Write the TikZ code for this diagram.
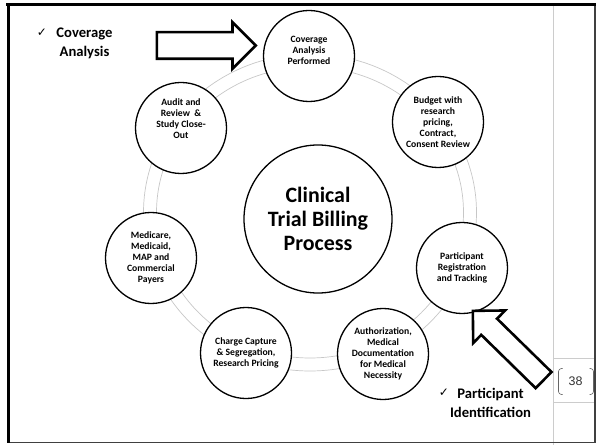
\documentclass[tikz,border=0pt]{standalone}
\usepackage{fontspec}
\setmainfont{Carlito}
\newfontfamily\tickfont{DejaVu Sans}
\newfontfamily\pagefont{Liberation Sans}
\usepackage{tikz}
\usetikzlibrary{shapes, shapes.arrows, backgrounds}

\begin{document}
\begin{tikzpicture}[x=1bp, y=-1bp,
stage/.style={circle, draw, line width=1.3bp, fill=white, minimum size=91bp, inner sep=0pt, align=center, font=\fontsize{9.7}{11}\selectfont\bfseries},
stagetext/.style={align=center, font=\fontsize{9.7}{11}\selectfont\bfseries},
hub/.style={circle, draw, line width=1.3bp, fill=white, minimum size=148bp, align=center, font=\fontsize{22}{24}\selectfont\bfseries},
pointer/.style={single arrow, draw, line width=2.6bp, fill=white, inner xsep=0pt, minimum width=0pt, minimum height=99bp, single arrow tip angle=90, anchor=tail},
note/.style={align=center, font=\fontsize{14.7}{18.5}\selectfont\bfseries},
tick/.style={font=\tickfont\fontsize{12}{12}\selectfont},
ring/.style={black!22, line width=0.7bp}
    ]
  \useasboundingbox (0,0) rectangle (596,445);

  % slide frame
  \draw[black!20, line width=1bp] (553,6) -- (553,445) (553,358) -- (595,358) (553,402) -- (595,402);
  \draw[black!75, line width=1.2bp] (595,4) -- (595,443) (8,442.5) -- (596,442.5);
  \draw[line width=3bp] (8.5,4) -- (8.5,443);
  \draw[line width=3.5bp] (6,4.5) -- (596,4.5);

  % ring behind the stages
  \draw[ring] (310,212.5) ellipse [x radius=153.5, y radius=145.5];
  \draw[ring] (310,212.5) ellipse [x radius=166.5, y radius=158.5];

  \node[hub] (hub) at (318,219) {Clinical\\Trial Billing\\Process};

  \node[stage, label={[stagetext, yshift=6bp]center:Coverage\\Analysis\\Performed}] (coverage) at (309,56) {};
  \node[stage] (budget) at (438,122) {Budget with\\research\\pricing,\\Contract,\\Consent Review};
  \node[stage] (register) at (462,268) {Participant\\Registration\\and Tracking};
  \node[stage] (auth) at (383,354) {Authorization,\\Medical\\Documentation\\for Medical\\Necessity};
  \node[stage] (charge) at (246,353) {Charge Capture\\\& Segregation,\\Research Pricing};
  \node[stage] (payers) at (151,258) {Medicare,\\Medicaid,\\MAP and\\Commercial\\Payers};
  \node[stage, label={[stagetext, yshift=9bp]center:Audit and\\Review ~\&\\Study Close-\\Out}] (audit) at (181,128) {};

  % call-outs
  \node[pointer, inner ysep=12bp, single arrow head extend=10bp] (covarrow) at (155.5,45.5) {};
  \node[pointer, inner ysep=10bp, single arrow head extend=11.5bp, rotate=135.6] (partarrow) at (544.5,381) {};

  \node[note] (covnote) at (84.5,43.5) {Coverage\\Analysis};
  \node[tick] (covtick) at (42,32.5) {✓};
  \node[note] (partnote) at (490.5,403) {Participant\\Identification};
  \node[tick] (parttick) at (444,392.5) {✓};

  % page number
  \node[font=\pagefont\fontsize{12.5}{14}\selectfont, text=black!80] (page) at (575.5,381.5) {38};
  \draw[black!60, line width=0.6bp, rounded corners=3bp, shift={(page)}]
    (-13,-13) -- (-17,-13) -- (-17,13) -- (-13,13)
    (14,-13) -- (18,-13) -- (18,13) -- (14,13);
\end{tikzpicture}
\end{document}
